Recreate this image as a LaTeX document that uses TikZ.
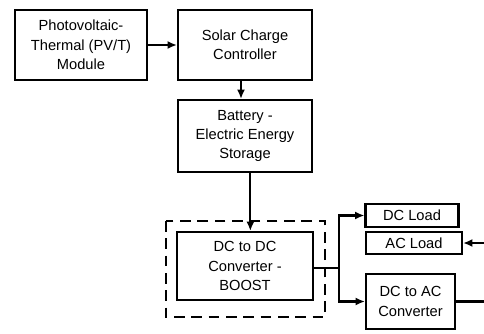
\documentclass[tikz,border=0pt]{standalone}
\usepackage{fontspec}
\setmainfont{Liberation Sans}
\usetikzlibrary{arrows.meta}
\tikzset{
  blk/.style={draw, line width=1.6pt, align=center, inner sep=2pt,
    font=\fontsize{11}{14.5}\selectfont},
  link/.style={line width=1.6pt},
  arr/.style={link, -{Latex[length=7pt,width=6pt]}},
}
\begin{document}
\begin{tikzpicture}[x=0.75pt, y=-0.75pt]
	\useasboundingbox (0,0) rectangle (484,333);
	\node[blk, minimum width=99pt, minimum height=52.5pt] (pvt) at (81,45) {Photovoltaic-\\Thermal (PV/T)\\Module};
	\node[blk, minimum width=100.5pt, minimum height=52.5pt] (scc) at (245,45) {Solar Charge\\Controller};
	\node[blk, minimum width=100.5pt, minimum height=54pt] (batt) at (245,136) {Battery -\\Electric Energy\\Storage};
	\node[blk, minimum width=102pt, minimum height=51pt] (dcdc) at (245,266) {DC to DC\\Converter -\\BOOST};
	\draw[line width=1.6pt, dash pattern=on 8pt off 5pt] (166,221) rectangle (325,317);
	\node[blk, minimum width=69.75pt, minimum height=17.25pt] (dcload) at (412,215.5) {DC Load};
	\node[blk, minimum width=72pt, minimum height=16.5pt] (acload) at (414,243) {AC Load};
	\node[blk, minimum width=66.75pt, minimum height=41.25pt] (dcac) at (410.5,301.5) {DC to AC\\Converter};
	\coordinate (junc) at (339,268);
	\coordinate (acout) at (484,301.5);
	\coordinate (acin) at (484,243);
	% connectors
	\draw[arr] (pvt) -- (scc);
	\draw[arr] ([xshift=-3pt]scc.south) -- ([xshift=-3pt]batt.north);
	\draw[arr] ([xshift=4pt]batt.south) -- ([xshift=4pt]dcdc.north);
	\draw[link] ([yshift=-1.5pt]dcdc.east) -- (junc);
	\draw[arr] (junc) |- (dcload.west);
	\draw[arr] (junc) |- (dcac.west);
	\draw[link] (dcac.east) -- (acout);
	\draw[arr] (acin) -- (acload.east);
\end{tikzpicture}
\end{document}
